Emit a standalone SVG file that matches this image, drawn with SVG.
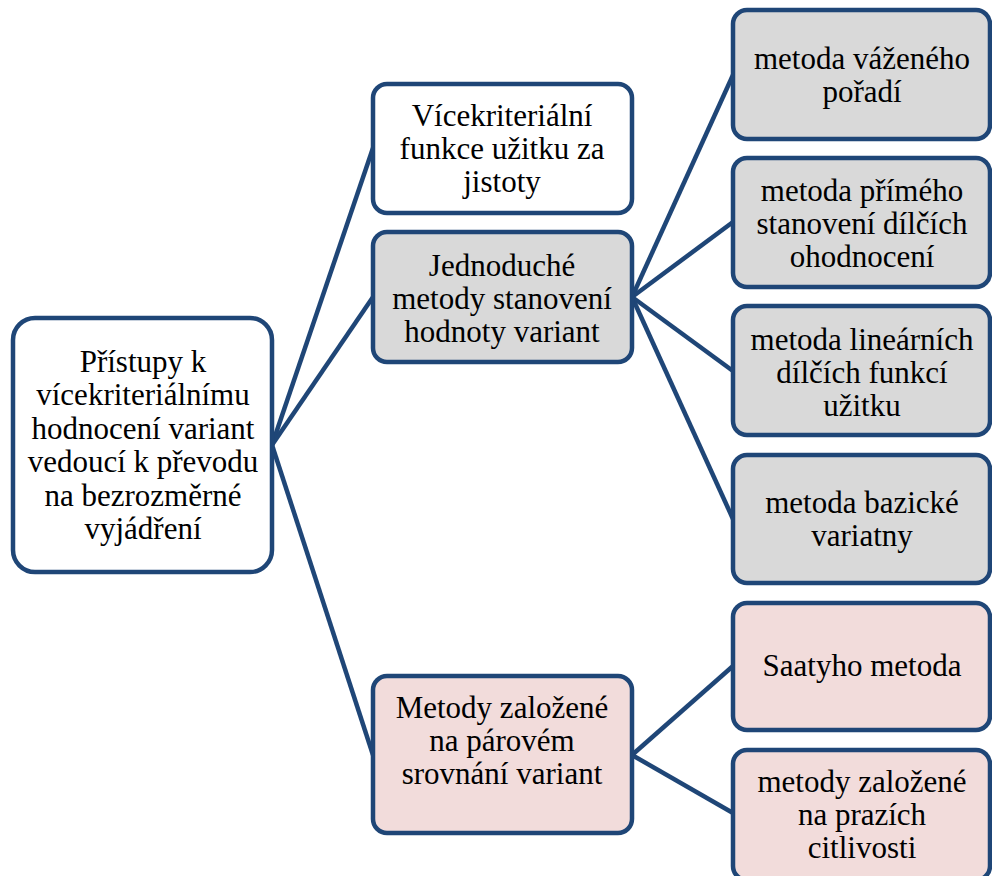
<svg xmlns="http://www.w3.org/2000/svg" width="992" height="876" viewBox="0 0 992 876">
<style>
.box{stroke:#1f4677;stroke-width:4.5}
.w{fill:#ffffff}
.g{fill:#d9d9d9}
.p{fill:#f2dcdb}
.t{font-family:'Liberation Serif','Times New Roman',serif;font-size:31px;fill:#000000;text-anchor:middle}
.c{stroke:#1f4677;stroke-width:4.5;fill:none}
</style>
<rect width="992" height="876" fill="#ffffff"/>
<g id="connectors">
<line class="c" x1="272" y1="445" x2="373" y2="148"/>
<line class="c" x1="272" y1="445" x2="373" y2="297"/>
<line class="c" x1="272" y1="445" x2="373" y2="755"/>
<line class="c" x1="632" y1="297" x2="733" y2="75"/>
<line class="c" x1="632" y1="297" x2="733" y2="222"/>
<line class="c" x1="632" y1="297" x2="733" y2="371"/>
<line class="c" x1="632" y1="297" x2="733" y2="519"/>
<line class="c" x1="632" y1="755" x2="733" y2="666"/>
<line class="c" x1="632" y1="755" x2="733" y2="813"/>
</g>
<g id="root">
<rect class="box w" x="13" y="318" width="259" height="254" rx="22"/>
<text class="t" x="143" y="372">Přístupy k</text>
<text class="t" x="143" y="405">vícekriteriálnímu</text>
<text class="t" x="143" y="439">hodnocení variant</text>
<text class="t" x="143" y="472">vedoucí k převodu</text>
<text class="t" x="143" y="506">na bezrozměrné</text>
<text class="t" x="143" y="539">vyjádření</text>
</g>
<g id="n-vicekriterialni">
<rect class="box w" x="373" y="84" width="259" height="129" rx="14"/>
<text class="t" x="502" y="126">Vícekriteriální</text>
<text class="t" x="502" y="159">funkce užitku za</text>
<text class="t" x="502" y="192">jistoty</text>
</g>
<g id="n-jednoduche">
<rect class="box g" x="373" y="232" width="259" height="130" rx="14"/>
<text class="t" x="502" y="276">Jednoduché</text>
<text class="t" x="502" y="309">metody stanovení</text>
<text class="t" x="502" y="342">hodnoty variant</text>
</g>
<g id="n-parove">
<rect class="box p" x="373" y="676" width="259" height="157" rx="14"/>
<text class="t" x="502" y="718">Metody založené</text>
<text class="t" x="502" y="751">na párovém</text>
<text class="t" x="502" y="784">srovnání variant</text>
</g>
<g id="n-vazene">
<rect class="box g" x="733" y="10" width="257" height="129" rx="14"/>
<text class="t" x="862" y="69">metoda váženého</text>
<text class="t" x="862" y="102">pořadí</text>
</g>
<g id="n-prime">
<rect class="box g" x="733" y="158" width="257" height="129" rx="14"/>
<text class="t" x="862" y="201">metoda přímého</text>
<text class="t" x="862" y="234">stanovení dílčích</text>
<text class="t" x="862" y="267">ohodnocení</text>
</g>
<g id="n-linearni">
<rect class="box g" x="733" y="306" width="257" height="129" rx="14"/>
<text class="t" x="862" y="350">metoda lineárních</text>
<text class="t" x="862" y="383">dílčích funkcí</text>
<text class="t" x="862" y="416">užitku</text>
</g>
<g id="n-bazicke">
<rect class="box g" x="733" y="455" width="257" height="128" rx="14"/>
<text class="t" x="862" y="513">metoda bazické</text>
<text class="t" x="862" y="546">variatny</text>
</g>
<g id="n-saaty">
<rect class="box p" x="733" y="603" width="257" height="127" rx="14"/>
<text class="t" x="862" y="676">Saatyho metoda</text>
</g>
<g id="n-prahy">
<rect class="box p" x="733" y="750" width="257" height="130" rx="14"/>
<text class="t" x="862" y="792">metody založené</text>
<text class="t" x="862" y="825">na prazích</text>
<text class="t" x="862" y="858">citlivosti</text>
</g>
</svg>
